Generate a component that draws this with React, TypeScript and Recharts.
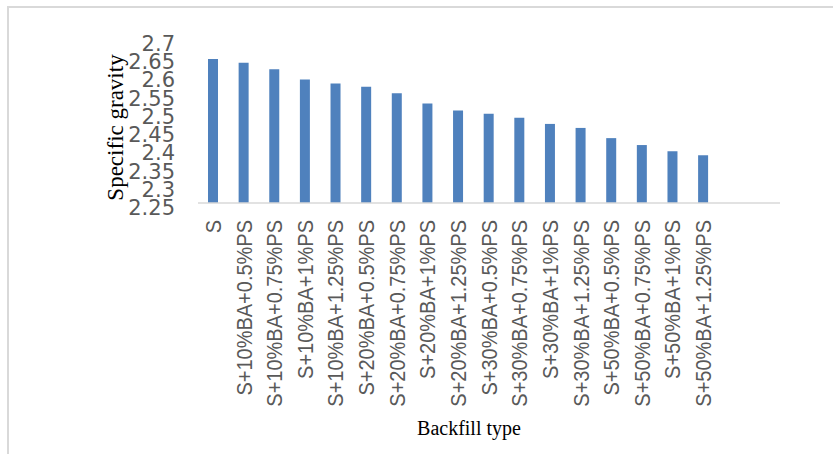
import { BarChart, Bar, XAxis, YAxis } from 'recharts'

// backfill types along the x axis (last two slots are empty in the original sheet)
const backfillTypes = [
  'S',
  'S+10%BA+0.5%PS',
  'S+10%BA+0.75%PS',
  'S+10%BA+1%PS',
  'S+10%BA+1.25%PS',
  'S+20%BA+0.5%PS',
  'S+20%BA+0.75%PS',
  'S+20%BA+1%PS',
  'S+20%BA+1.25%PS',
  'S+30%BA+0.5%PS',
  'S+30%BA+0.75%PS',
  'S+30%BA+1%PS',
  'S+30%BA+1.25%PS',
  'S+50%BA+0.5%PS',
  'S+50%BA+0.75%PS',
  'S+50%BA+1%PS',
  'S+50%BA+1.25%PS',
  '',
  '',
]

const specificGravity: (number | null)[] = [
  2.645, 2.635, 2.617, 2.589, 2.578, 2.569, 2.551, 2.523, 2.504, 2.495, 2.484,
  2.467, 2.456, 2.428, 2.409, 2.392, 2.381, null, null,
]

const gravityTicks = [2.25, 2.3, 2.35, 2.4, 2.45, 2.5, 2.55, 2.6, 2.65, 2.7]

const data = backfillTypes.map((name, i) => ({ name, sg: specificGravity[i] }))

const YTick = (props: any) => {
  const { x, y, payload } = props
  return (
    <text
      x={x - 23}
      y={y}
      dy={12}
      textAnchor="end"
      fill="#595959"
      fontSize={21}
      fontFamily="DejaVu Sans"
    >
      {String(payload.value)}
    </text>
  )
}

const XTick = (props: any) => {
  const { x, y, payload } = props
  if (!payload.value) return null
  return (
    <text
      transform={`translate(${x},${y + 17}) rotate(-90) scale(1,1.06)`}
      dy="0.36em"
      textAnchor="end"
      fill="#595959"
      fontSize={20}
      fontFamily="Liberation Sans, Arial"
    >
      {payload.value}
    </text>
  )
}

export default function App() {
  return (
    <div
      style={{
        position: 'absolute',
        left: 0,
        top: 0,
        width: 833,
        height: 454,
        overflow: 'hidden',
        background: '#fff',
      }}
    >
      <div
        style={{
          position: 'absolute',
          left: 7,
          top: 6,
          width: 900,
          height: 500,
          border: '2px solid #d9d9d9',
        }}
      />
      <div style={{ position: 'absolute', left: 0, top: 0 }}>
        <BarChart
          width={833}
          height={454}
          data={data}
          margin={{ top: 39, right: 53, bottom: 0, left: 0 }}
        >
          <XAxis
            dataKey="name"
            interval={0}
            height={251}
            tickLine={false}
            tickSize={0}
            tickMargin={0}
            stroke="#d9d9d9"
            strokeWidth={1.5}
            tick={<XTick />}
          />
          <YAxis
            type="number"
            domain={[2.25, 2.7]}
            ticks={gravityTicks}
            interval={0}
            width={198}
            axisLine={false}
            tickLine={false}
            tickSize={0}
            tickMargin={0}
            tick={<YTick />}
          />
          <Bar dataKey="sg" fill="#4f81bd" barSize={10} isAnimationActive={false} />
        </BarChart>
      </div>
      <svg
        width={833}
        height={454}
        style={{ position: 'absolute', left: 0, top: 0, pointerEvents: 'none' }}
      >
        <text
          transform="translate(122.7,127.5) rotate(-90)"
          textAnchor="middle"
          fontFamily="Liberation Serif, Times New Roman"
          fontSize={23}
          fill="#000"
        >
          Specific gravity
        </text>
        <text
          x={469}
          y={435}
          textAnchor="middle"
          fontFamily="Liberation Serif, Times New Roman"
          fontSize={20}
          fill="#000"
        >
          Backfill type
        </text>
      </svg>
    </div>
  )
}
